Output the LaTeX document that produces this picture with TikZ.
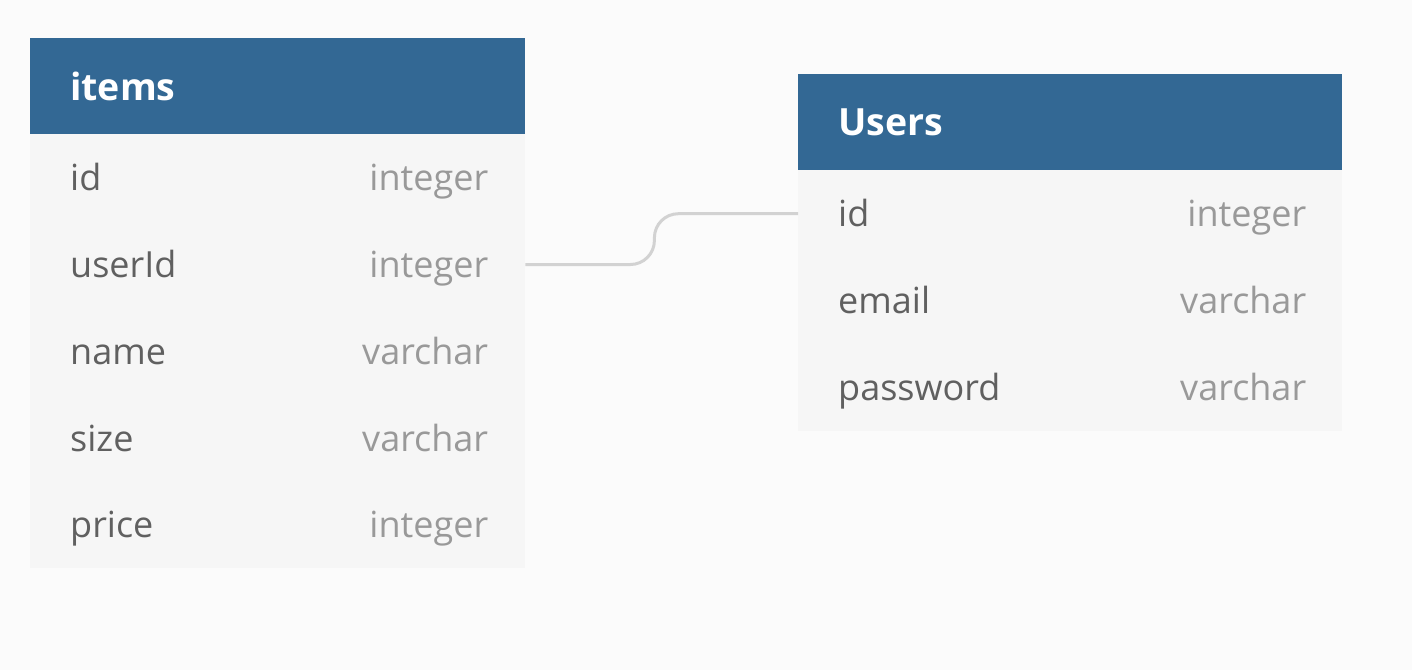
\documentclass[tikz,border=0pt]{standalone}
\usepackage{fontspec}
\setmainfont{Open Sans}
\definecolor{bg}{HTML}{FBFBFB}
\definecolor{hdr}{HTML}{336894}
\definecolor{rowbg}{HTML}{F6F6F6}
\definecolor{fname}{HTML}{606060}
\definecolor{ftype}{HTML}{999999}
\definecolor{conn}{HTML}{D2D2D2}
\begin{document}
\begin{tikzpicture}[x=1pt,y=-1pt,
  hdrbox/.style={fill=hdr, draw=none, rectangle, inner sep=0pt, anchor=north west, minimum height=96pt},
  rowbox/.style={fill=rowbg, draw=none, rectangle, inner sep=0pt, anchor=north west, minimum height=87pt},
  hdrtext/.style={text=white, anchor=base west, inner sep=0pt, font=\fontsize{37.5}{44}\selectfont\bfseries},
  nametext/.style={text=fname, anchor=base west, inner sep=0pt, font=\fontsize{36}{42}\selectfont},
  typetext/.style={text=ftype, anchor=base east, inner sep=0pt, font=\fontsize{36}{42}\selectfont},
  connector/.style={draw=conn, line width=3pt, rounded corners=24pt}
]
\fill[bg] (0,0) rectangle (1412,670);
\useasboundingbox (0,0) rectangle (1412,670);

% items table
\node[hdrbox, minimum width=495pt] (items) at (30,38) {};
\node[hdrtext] (items-title) at ([xshift=40pt,yshift=-14pt]items.west) {items};
\foreach \n/\f/\t [count=\i from 0] in {id/id/integer, userId/userId/integer, name/name/varchar, size/size/varchar, price/price/integer}{
  \node[rowbox, minimum width=495pt] (items-\n) at (30,{134+86.8*\i}) {};
  \node[nametext] (items-\n-name) at ([xshift=40pt,yshift=-13pt]items-\n.west) {\f};
  \node[typetext] (items-\n-type) at ([xshift=-37pt,yshift=-13pt]items-\n.east) {\t};
}

% users table
\node[hdrbox, minimum width=544pt] (users) at (798,74) {};
\node[hdrtext] (users-title) at ([xshift=40pt,yshift=-13pt]users.west) {Users};
\foreach \n/\f/\t [count=\i from 0] in {id/id/integer, email/email/varchar, password/password/varchar}{
  \node[rowbox, minimum width=544pt] (users-\n) at (798,{170+87*\i}) {};
  \node[nametext] (users-\n-name) at ([xshift=40pt,yshift=-13pt]users-\n.west) {\f};
  \node[typetext] (users-\n-type) at ([xshift=-36pt,yshift=-13pt]users-\n.east) {\t};
}

% connector
\draw[connector] (items-userId.east) -- ([xshift=129pt]items-userId.east) |- (users-id.west);
\end{tikzpicture}
\end{document}
